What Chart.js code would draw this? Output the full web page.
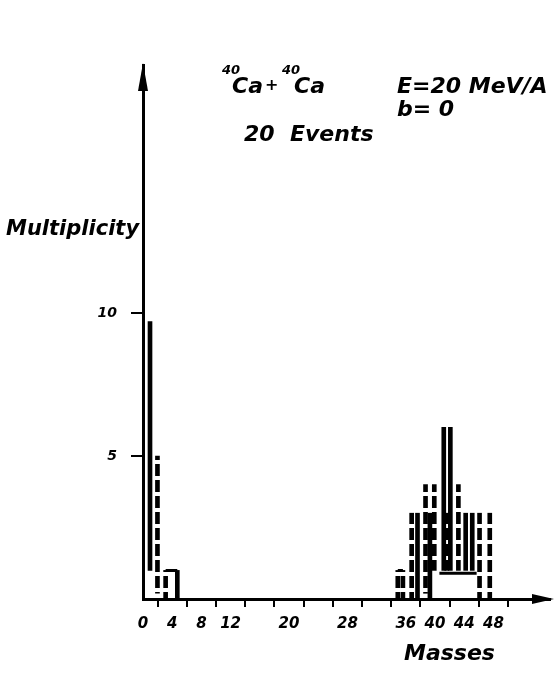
<!DOCTYPE html>
<html>
<head>
<meta charset="utf-8">
<script src="https://cdn.jsdelivr.net/npm/chart.js@4.4.1/dist/chart.umd.min.js"></script>
<style>
  body { margin: 0; background: #fff; }
  canvas { display: block; }
</style>
</head>
<body>
<canvas id="chart" width="557" height="681"></canvas>
<script>
// mass positions and multiplicity ranges
const solidMass = [0.96, 4.7, 37.6, 39.3, 41.2, 42.1, 44.2, 45.1];
const solidLow = [1, 0, 0, 0, 1, 1, 1, 1];
const solidHigh = [9.7, 1, 3, 3, 6, 6, 3, 3];

const dashedMass = [1.98, 3.1, 34.9, 35.6, 36.8, 38.7, 39.9, 41.6, 43.2, 46.1, 47.5];
const dashedLow = [0.2, 0, 0, 0, 0, 0.2, 1, 1, 1, 0, 0];
const dashedHigh = [5, 1, 1, 1, 3, 4, 4, 3, 4, 3, 3];

// horizontal bin tops
const capStart = [3.1, 34.9, 40.6];
const capEnd = [4.7, 35.6, 45.7];
const capLevel = [1, 1, 0.9];

const xTicks = [0, 4, 8, 12, 16, 20, 24, 28, 32, 36, 40, 44, 48];
const xLabels = [0, 4, 8, 12, 20, 28, 36, 40, 44, 48];
const yTicks = [5, 10];

const FONT = "'DejaVu Sans'";

function toBars(mass, low, high) {
    return mass.map((m, i) => ({ x: m, y: [low[i], high[i]] }));
}

function capPoints() {
    const pts = [];
    capStart.forEach((s, i) => {
        pts.push({ x: s, y: capLevel[i] });
        pts.push({ x: capEnd[i], y: capLevel[i] });
        pts.push({ x: capEnd[i] + 0.01, y: null });
    });
    return pts;
}

// dashed fill for the broken bars
const pattern = (function () {
    const c = document.createElement('canvas');
    c.width = 6;
    c.height = 16;
    const g = c.getContext('2d');
    g.fillStyle = '#000';
    g.fillRect(0, 0, 6, 12);
    return document.getElementById('chart').getContext('2d').createPattern(c, 'repeat');
})();

const decorations = {
    id: 'decorations',
    afterDraw(chart) {
        const ctx = chart.ctx;
        const a = chart.chartArea;
        ctx.save();
        ctx.fillStyle = '#000';
        // arrow heads
        ctx.beginPath();
        ctx.moveTo(a.left, a.top - 2);
        ctx.lineTo(a.left - 5, a.top + 26);
        ctx.lineTo(a.left + 5, a.top + 26);
        ctx.closePath();
        ctx.fill();
        ctx.beginPath();
        ctx.moveTo(a.right + 4, a.bottom);
        ctx.lineTo(a.right - 18, a.bottom - 5);
        ctx.lineTo(a.right - 18, a.bottom + 5);
        ctx.closePath();
        ctx.fill();

        ctx.textBaseline = 'alphabetic';
        ctx.textAlign = 'left';
        ctx.font = 'italic bold 21px ' + FONT;
        ctx.fillText('Multiplicity', 6, 235);
        ctx.font = 'italic bold 22px ' + FONT;
        ctx.fillText('Masses', 404, 660);

        ctx.font = 'italic bold 13px ' + FONT;
        ctx.fillText('40', 222, 74);
        ctx.fillText('40', 282, 74);
        ctx.font = 'italic bold 22px ' + FONT;
        ctx.fillText('Ca', 232, 93);
        ctx.fillText('Ca', 294, 93);
        ctx.font = 'italic bold 16px ' + FONT;
        ctx.fillText('+', 265, 90);
        ctx.font = 'italic bold 22px ' + FONT;
        ctx.fillText('E=20 MeV/A', 397, 93);
        ctx.fillText('b= 0', 397, 116);
        ctx.fillText('20  Events', 244, 141);
        ctx.restore();
    }
};

new Chart(document.getElementById('chart'), {
    type: 'bar',
    data: {
        datasets: [{
            label: 'solid',
            data: toBars(solidMass, solidLow, solidHigh),
            backgroundColor: '#000',
            barThickness: 4,
            grouped: false
        }, {
            label: 'dashed',
            data: toBars(dashedMass, dashedLow, dashedHigh),
            backgroundColor: pattern,
            barThickness: 4,
            grouped: false
        }, {
            type: 'line',
            label: 'caps',
            data: capPoints(),
            borderColor: '#000',
            borderWidth: 3,
            pointRadius: 0,
            spanGaps: false
        }]
    },
    options: {
        responsive: false,
        animation: false,
        layout: { padding: { left: 0, right: 7, top: 65, bottom: 42 } },
        plugins: { legend: { display: false }, tooltip: { enabled: false } },
        scales: {
            x: {
                type: 'linear',
                min: 0,
                max: 55.75,
                offset: false,
                afterBuildTicks: s => { s.ticks = xTicks.map(v => ({ value: v })); },
                afterFit: s => { s.height = 40; },
                border: { display: true, color: '#000', width: 3 },
                grid: { drawOnChartArea: false, drawTicks: true, tickLength: 8, color: '#000', lineWidth: 2 },
                ticks: {
                    color: '#000',
                    padding: 8,
                    maxRotation: 0,
                    autoSkip: false,
                    font: { family: FONT, size: 15, style: 'italic', weight: 'bold' },
                    callback: v => xLabels.includes(v) ? String(v) : ''
                }
            },
            y: {
                min: 0,
                max: 18.67,
                afterBuildTicks: s => { s.ticks = yTicks.map(v => ({ value: v })); },
                afterFit: s => { s.width = 143; },
                border: { display: true, color: '#000', width: 3 },
                grid: { drawOnChartArea: false, drawTicks: true, tickLength: 12, color: '#000', lineWidth: 2 },
                ticks: {
                    color: '#000',
                    padding: 14,
                    font: { family: FONT, size: 14, style: 'italic', weight: 'bold' }
                }
            }
        }
    },
    plugins: [decorations]
});
</script>
</body>
</html>
